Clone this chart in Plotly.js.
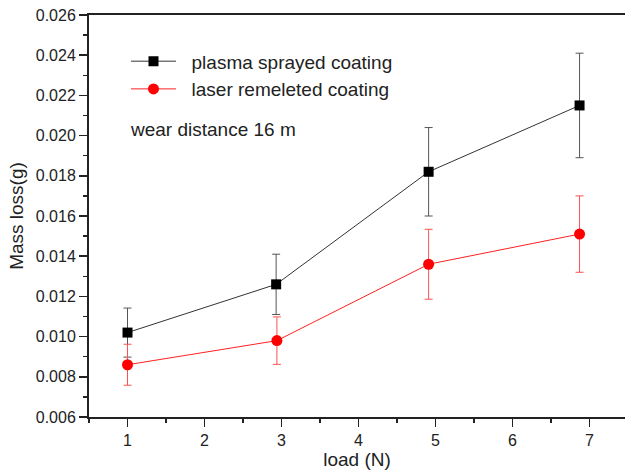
<!DOCTYPE html>
<html>
<head>
<meta charset="utf-8">
<script src="https://cdn.plot.ly/plotly-3.0.1.min.js"></script>
<style>html,body{margin:0;padding:0;background:#fff;}#chart{width:625px;height:472px;}</style>
</head>
<body>
<div id="chart"></div>
<script>
const seriesNames = ["plasma sprayed coating", "laser remeleted coating"];
const plasmaLoad = [1, 2.93, 4.91, 6.87];
const plasmaLoss = [0.0102, 0.0126, 0.0182, 0.0215];
const plasmaErr = [0.00122, 0.0015, 0.0022, 0.0026];
const laserLoad = [1, 2.94, 4.91, 6.87];
const laserLoss = [0.0086, 0.0098, 0.0136, 0.0151];
const laserErr = [0.00102, 0.00118, 0.00174, 0.0019];
const xTicks = [1, 2, 3, 4, 5, 6, 7];
const yTicks = [0.006, 0.008, 0.010, 0.012, 0.014, 0.016, 0.018, 0.020, 0.022, 0.024, 0.026];
const noteText = "wear distance 16 m";

const FONT = "Arial, 'Liberation Sans', sans-serif";
const PAD = "\u00a0\u00a0";

const traces = [
  {
    x: plasmaLoad, y: plasmaLoss, name: PAD + seriesNames[0], type: "scatter", mode: "lines+markers",
    line: {color: "#333333", width: 1},
    marker: {symbol: "square", size: 10, color: "#000000"},
    error_y: {type: "data", array: plasmaErr, visible: true, color: "#555555", thickness: 1, width: 4}
  },
  {
    x: laserLoad, y: laserLoss, name: PAD + seriesNames[1], type: "scatter", mode: "lines+markers",
    line: {color: "#ff2020", width: 1},
    marker: {symbol: "circle", size: 11, color: "#ff0000"},
    error_y: {type: "data", array: laserErr, visible: true, color: "#ff5050", thickness: 1, width: 4}
  }
];

const layout = {
  width: 625, height: 472,
  margin: {l: 89, r: 0, t: 15, b: 55},
  paper_bgcolor: "#ffffff", plot_bgcolor: "#ffffff",
  font: {family: FONT, color: "#222222", size: 16},
  showlegend: true,
  legend: {
    x: 0.069, y: 0.932, xanchor: "left", yanchor: "top",
    font: {family: FONT, size: 19, color: "#222222"},
    bgcolor: "rgba(0,0,0,0)", borderwidth: 0, itemwidth: 45, tracegroupgap: 0
  },
  xaxis: {
    range: [0.5, 7.46],
    tickmode: "array", tickvals: xTicks, ticktext: xTicks.map(String),
    ticks: "outside", ticklen: 8, tickwidth: 1.5, tickcolor: "#222222",
    minor: {dtick: 0.5, ticks: "outside", ticklen: 4, tickwidth: 1.5, tickcolor: "#222222", showgrid: false},
    showline: true, linecolor: "#222222", linewidth: 2, mirror: true,
    showgrid: false, zeroline: false,
    tickfont: {family: FONT, size: 16, color: "#222222"},
    title: {text: "load (N)", font: {family: FONT, size: 19, color: "#222222"}, standoff: 2}
  },
  yaxis: {
    range: [0.006, 0.026],
    tickmode: "array", tickvals: yTicks, ticktext: yTicks.map(v => v.toFixed(3)),
    ticks: "outside", ticklen: 8, tickwidth: 1.5, tickcolor: "#222222",
    minor: {dtick: 0.001, ticks: "outside", ticklen: 4, tickwidth: 1.5, tickcolor: "#222222", showgrid: false},
    showline: true, linecolor: "#222222", linewidth: 2, mirror: false,
    showgrid: false, zeroline: false,
    tickfont: {family: FONT, size: 16, color: "#222222"},
    title: {text: "Mass loss(g)", font: {family: FONT, size: 19, color: "#222222"}, standoff: 7}
  },
  annotations: [
    {x: 1, y: 0.0203, xref: "x", yref: "y", xanchor: "left", yanchor: "middle",
     text: noteText, showarrow: false, font: {family: FONT, size: 19, color: "#222222"}}
  ]
};

Plotly.newPlot("chart", traces, layout, {staticPlot: true, displayModeBar: false});
</script>
</body>
</html>
